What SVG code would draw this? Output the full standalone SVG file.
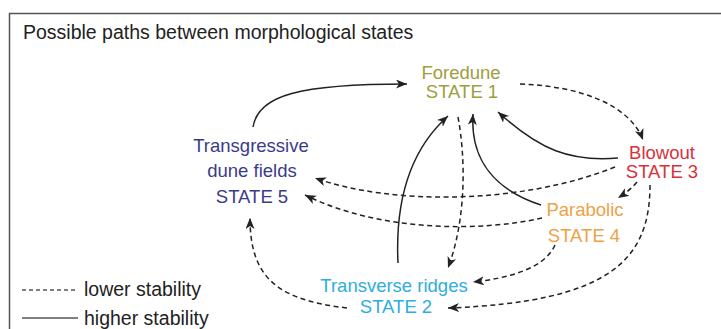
<svg xmlns="http://www.w3.org/2000/svg" width="721" height="329" viewBox="0 0 721 329">
<style>
text{font-family:"Liberation Sans",Arial,sans-serif;font-size:19.5px}
.n text{text-anchor:middle;font-size:18.5px}
.c path{fill:none;stroke:#222;stroke-width:1.5}
.d{stroke-dasharray:5 3.5}
.s1 text{fill:#9e9e3c}
.s2 text{fill:#2fadde}
.s3 text{fill:#d8313a}
.s4 text{fill:#eda245}
.s5 text{fill:#3b3b8c}
</style>
<defs>
<marker id="ah" markerUnits="userSpaceOnUse" markerWidth="12" markerHeight="10" refX="11" refY="4.5" orient="auto">
<path d="M0,0 L11,4.5 L0,9 L3,4.5 z" fill="#222"/>
</marker>
</defs>
<rect x="9.5" y="13.5" width="720" height="330" fill="#fff" stroke="#555" stroke-width="1.5"/>
<text x="23" y="39" fill="#222">Possible paths between morphological states</text>
<g class="c">
<path d="M253,127 C258,95 300,84 407,84" marker-end="url(#ah)"/>
<path class="d" d="M520,84 C580,86 630,105 643,140" marker-end="url(#ah)"/>
<path d="M618,158 C570,162 540,150 498,112" marker-end="url(#ah)"/>
<path d="M541,205 C495,190 470,160 473,114" marker-end="url(#ah)"/>
<path d="M398,263 C395,200 410,150 448,116" marker-end="url(#ah)"/>
<path class="d" d="M458,117 C466,160 466,220 448,268" marker-end="url(#ah)"/>
<path class="d" d="M615,167 C520,205 390,205 315,178" marker-end="url(#ah)"/>
<path class="d" d="M542,218 C480,232 380,232 305,195" marker-end="url(#ah)"/>
<path class="d" d="M637,182 C632,188 626,193 618,198" marker-end="url(#ah)"/>
<path class="d" d="M650,185 C650,260 610,302 448,308" marker-end="url(#ah)"/>
<path class="d" d="M555,245 C545,268 510,278 473,282" marker-end="url(#ah)"/>
<path class="d" d="M347,308 C280,300 250,280 250,218" marker-end="url(#ah)"/>
</g>
<g id="state1" class="n s1"><text x="461" y="79">Foredune</text><text x="462" y="98">STATE 1</text></g>
<g id="state2" class="n s2"><text x="394" y="292">Transverse ridges</text><text x="396" y="313">STATE 2</text></g>
<g id="state3" class="n s3"><text x="662" y="159">Blowout</text><text x="662" y="178">STATE 3</text></g>
<g id="state4" class="n s4"><text x="585" y="216">Parabolic</text><text x="584" y="242">STATE 4</text></g>
<g id="state5" class="n s5"><text x="251" y="152">Transgressive</text><text x="252" y="177">dune fields</text><text x="252" y="203">STATE 5</text></g>
<g id="legend">
<line x1="22" y1="290" x2="78" y2="290" stroke="#555" stroke-width="1.3" stroke-dasharray="4 3"/>
<text x="84" y="296" fill="#222">lower stability</text>
<line x1="22" y1="318" x2="78" y2="318" stroke="#555" stroke-width="1.3"/>
<text x="84" y="325" fill="#222">higher stability</text>
</g>
</svg>
